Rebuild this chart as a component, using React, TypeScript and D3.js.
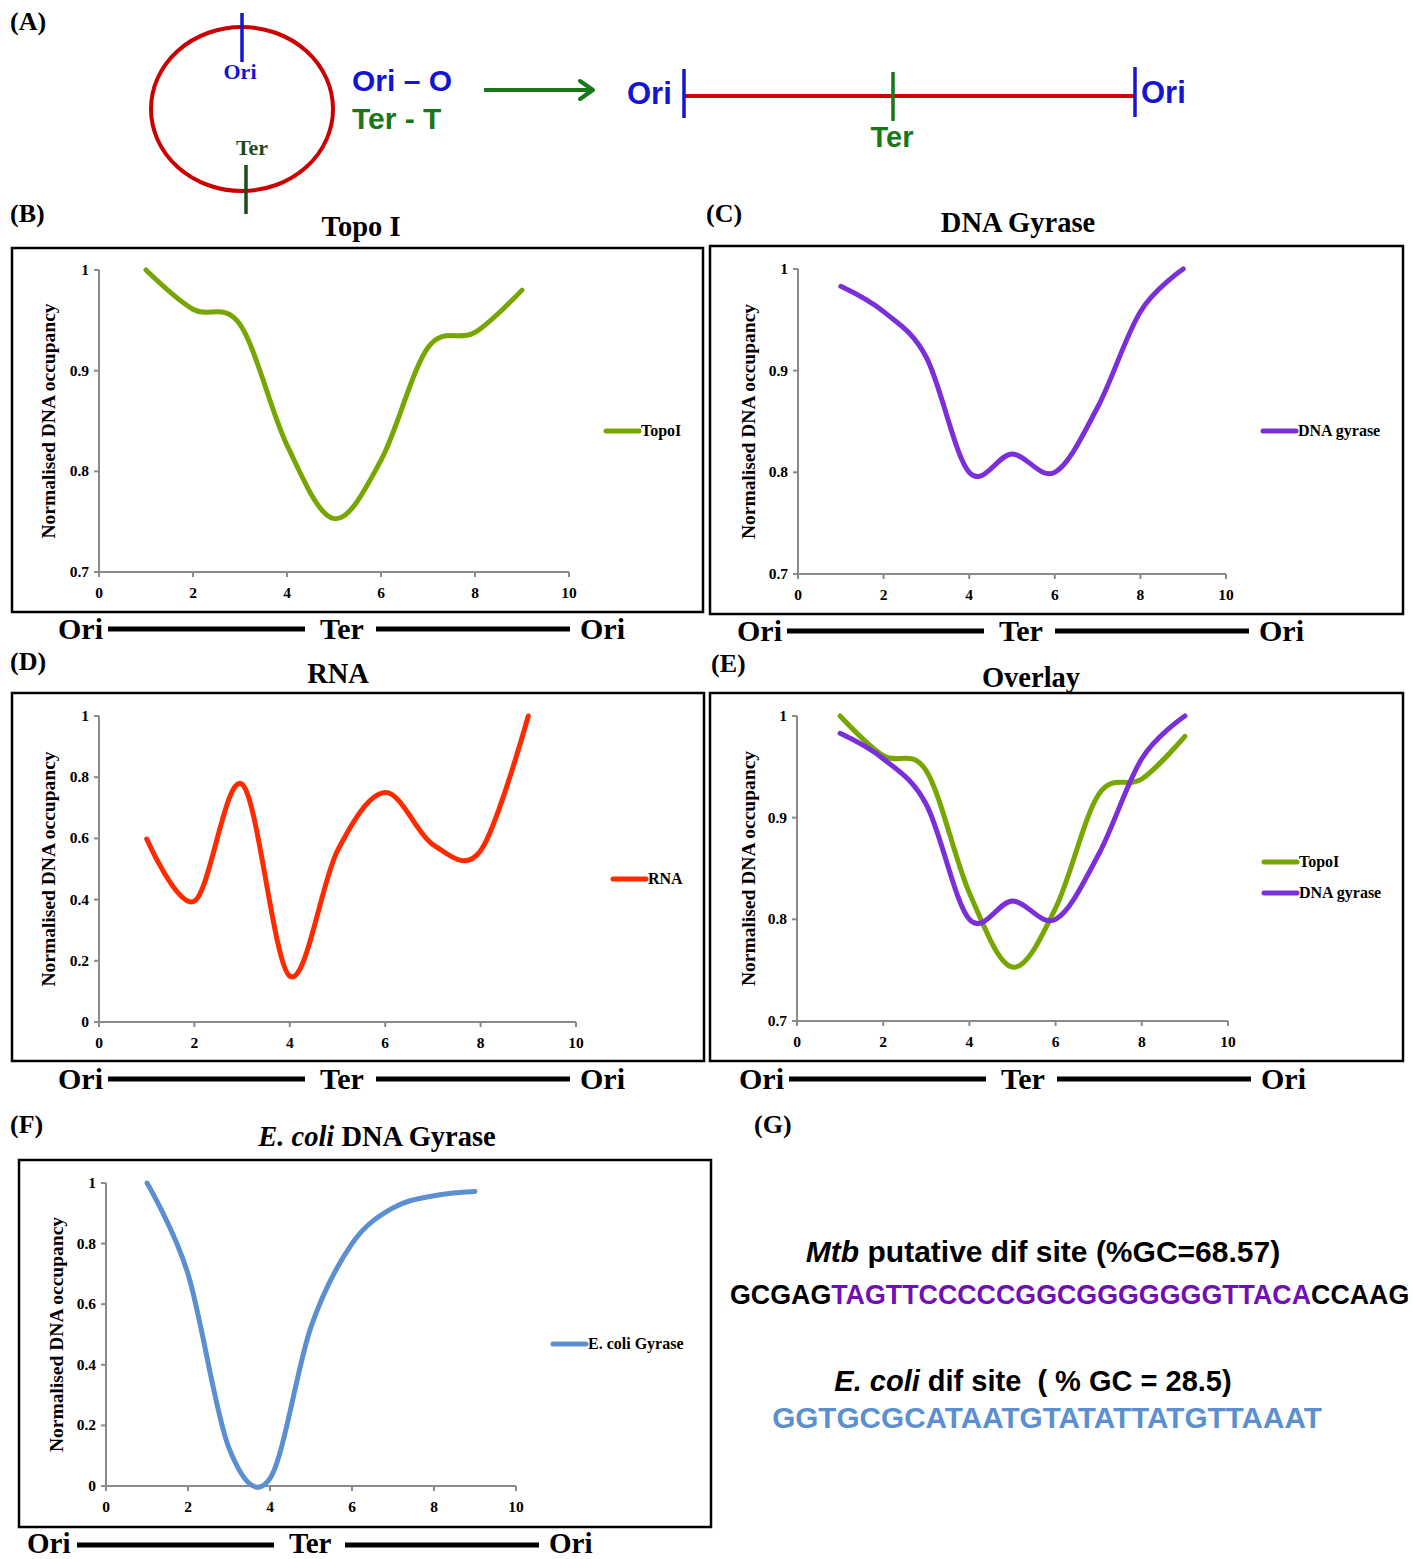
import React from 'react';
import * as d3 from 'd3';

// ---------- data ----------
const positions = [1, 2, 3, 4, 5, 6, 7, 8, 9];
const topoI = [1.0, 0.961, 0.946, 0.826, 0.753, 0.811, 0.923, 0.938, 0.98];
const dnaGyrase = [0.983, 0.958, 0.913, 0.8, 0.818, 0.8, 0.864, 0.958, 1.0];
const rna = [0.598, 0.395, 0.777, 0.15, 0.56, 0.75, 0.58, 0.56, 1.0];
const ecoliGyrase = [1.0, 0.7, 0.125, 0.025, 0.525, 0.8, 0.918, 0.958, 0.972];

const xTicks = [0, 2, 4, 6, 8, 10];
const yTicksNarrow = [0.7, 0.8, 0.9, 1];
const yTicksWide = [0, 0.2, 0.4, 0.6, 0.8, 1];

const mtbLeft = 'GCGAG';
const mtbCore = 'TAGTTCCCCCGGCGGGGGGGTTACA';
const mtbRight = 'CCAAG';
const ecoliSeq = 'GGTGCGCATAATGTATATTATGTTAAAT';

const C_TOPO = '#78a600';
const C_GYR = '#7b2fd9';
const C_RNA = '#ff2a00';
const C_ECOLI = '#5b8fcf';
const C_BLUE = '#1414d2';
const C_GREEN = '#187818';
const C_DKGREEN = '#1c4a1c';
const C_RED = '#cc0000';
const C_AXIS = '#8a8a8a';

const SERIF = "'Liberation Serif','Times New Roman',serif";
const SANS = "'Liberation Sans',Arial,sans-serif";

const fmt = (v: number) => (v === 0 ? '0' : v === 1 ? '1' : d3.format('.1f')(v));

type Series = { values: number[]; color: string; name: string };
type PanelCfg = {
  letter: string; letterX: number; letterY: number;
  title: React.ReactNode; titleX: number; titleY: number;
  box: [number, number, number, number];
  x0: number; x10: number; yTop: number; yBot: number;
  yDomain: [number, number]; yTicks: number[];
  ylabelX: number;
  series: Series[];
  legendX: number; legendY: number; legendDy: number;
  footerX: number; footerY: number; footerSize?: number; footerDy?: number;
};

function Footer({ ox, y, size = 30, dy = 10 }: { ox: number; y: number; size?: number; dy?: number }) {
  const ts = { fontFamily: SERIF, fontWeight: 700, fontSize: size } as const;
  return (
    <g>
      <text x={ox} y={y + dy} style={ts}>Ori</text>
      <line x1={ox + 50} x2={ox + 247} y1={y} y2={y} stroke="#000" strokeWidth={5} />
      <text x={ox + 262} y={y + dy} style={ts}>Ter</text>
      <line x1={ox + 318} x2={ox + 512} y1={y} y2={y} stroke="#000" strokeWidth={5} />
      <text x={ox + 522} y={y + dy} style={ts}>Ori</text>
    </g>
  );
}

function Panel({ c }: { c: PanelCfg }) {
  const x = d3.scaleLinear().domain([0, 10]).range([c.x0, c.x10]);
  const y = d3.scaleLinear().domain(c.yDomain).range([c.yBot, c.yTop]);
  const line = d3
    .line<number>()
    .x((_, i) => x(positions[i]))
    .y((v) => y(v))
    .curve(d3.curveCardinal.tension(0));
  const [bx, by, bw, bh] = c.box;
  const tickFont = { fontFamily: SERIF, fontWeight: 700, fontSize: 15.5 } as const;
  return (
    <g>
      <text x={c.letterX} y={c.letterY} style={{ fontFamily: SERIF, fontWeight: 700, fontSize: 26 }}>{c.letter}</text>
      <text x={c.titleX} y={c.titleY} textAnchor="middle" style={{ fontFamily: SERIF, fontWeight: 700, fontSize: 28.5 }}>{c.title}</text>
      <rect x={bx} y={by} width={bw} height={bh} fill="#fff" stroke="#000" strokeWidth={2.5} />
      {/* axes */}
      <line x1={c.x0} x2={c.x0} y1={y(c.yDomain[1])} y2={y(c.yDomain[0])} stroke={C_AXIS} strokeWidth={2} />
      <line x1={x(0)} x2={x(10)} y1={c.yBot} y2={c.yBot} stroke={C_AXIS} strokeWidth={2} />
      {c.yTicks.map((t) => (
        <g key={'y' + t}>
          <line x1={c.x0 - 5} x2={c.x0} y1={y(t)} y2={y(t)} stroke={C_AXIS} strokeWidth={2} />
          <text x={c.x0 - 10} y={y(t) + 5} textAnchor="end" style={tickFont}>{fmt(t)}</text>
        </g>
      ))}
      {xTicks.map((t) => (
        <g key={'x' + t}>
          <line x1={x(t)} x2={x(t)} y1={c.yBot} y2={c.yBot + 5} stroke={C_AXIS} strokeWidth={2} />
          <text x={x(t)} y={c.yBot + 26} textAnchor="middle" style={tickFont}>{t}</text>
        </g>
      ))}
      <text
        transform={`translate(${c.ylabelX},${(c.yTop + c.yBot) / 2}) rotate(-90)`}
        textAnchor="middle"
        style={{ fontFamily: SERIF, fontWeight: 700, fontSize: 19.5 }}
      >
        Normalised DNA occupancy
      </text>
      {c.series.map((s) => (
        <path key={s.name} d={line(s.values) || ''} fill="none" stroke={s.color} strokeWidth={5} strokeLinecap="round" strokeLinejoin="round" />
      ))}
      {c.series.map((s, i) => (
        <g key={'lg' + s.name}>
          <line x1={c.legendX} x2={c.legendX + 33} y1={c.legendY + i * c.legendDy} y2={c.legendY + i * c.legendDy} stroke={s.color} strokeWidth={5} strokeLinecap="round" />
          <text x={c.legendX + 35} y={c.legendY + i * c.legendDy + 5} style={{ fontFamily: SERIF, fontWeight: 700, fontSize: 16 }}>{s.name}</text>
        </g>
      ))}
      <Footer ox={c.footerX} y={c.footerY} size={c.footerSize} dy={c.footerDy} />
    </g>
  );
}

const panels: PanelCfg[] = [
  {
    letter: '(B)', letterX: 10, letterY: 222, title: 'Topo I', titleX: 361, titleY: 236,
    box: [12, 248, 691, 364], x0: 99, x10: 569, yTop: 270, yBot: 572,
    yDomain: [0.7, 1], yTicks: yTicksNarrow, ylabelX: 55,
    series: [{ values: topoI, color: C_TOPO, name: 'TopoI' }],
    legendX: 606, legendY: 431, legendDy: 31, footerX: 58, footerY: 629,
  },
  {
    letter: '(C)', letterX: 706, letterY: 222, title: 'DNA Gyrase', titleX: 1018, titleY: 232,
    box: [710, 246, 693, 368], x0: 798, x10: 1226, yTop: 269, yBot: 574,
    yDomain: [0.7, 1], yTicks: yTicksNarrow, ylabelX: 755,
    series: [{ values: dnaGyrase, color: C_GYR, name: 'DNA gyrase' }],
    legendX: 1263, legendY: 431, legendDy: 31, footerX: 737, footerY: 631,
  },
  {
    letter: '(D)', letterX: 10, letterY: 670, title: 'RNA', titleX: 338, titleY: 683,
    box: [12, 693, 692, 368], x0: 99, x10: 576, yTop: 716, yBot: 1022,
    yDomain: [0, 1], yTicks: yTicksWide, ylabelX: 55,
    series: [{ values: rna, color: C_RNA, name: 'RNA' }],
    legendX: 613, legendY: 879, legendDy: 31, footerX: 58, footerY: 1079,
  },
  {
    letter: '(E)', letterX: 711, letterY: 672, title: 'Overlay', titleX: 1031, titleY: 687,
    box: [710, 693, 693, 368], x0: 797, x10: 1228, yTop: 716, yBot: 1021,
    yDomain: [0.7, 1], yTicks: yTicksNarrow, ylabelX: 755,
    series: [
      { values: topoI, color: C_TOPO, name: 'TopoI' },
      { values: dnaGyrase, color: C_GYR, name: 'DNA gyrase' },
    ],
    legendX: 1264, legendY: 862, legendDy: 31, footerX: 739, footerY: 1079,
  },
  {
    letter: '(F)', letterX: 10, letterY: 1133,
    title: (<><tspan fontStyle="italic">E. coli</tspan> DNA Gyrase</>), titleX: 377, titleY: 1146,
    box: [19, 1160, 692, 367], x0: 106, x10: 516, yTop: 1183, yBot: 1486,
    yDomain: [0, 1], yTicks: yTicksWide, ylabelX: 63,
    series: [{ values: ecoliGyrase, color: C_ECOLI, name: 'E. coli Gyrase' }],
    legendX: 553, legendY: 1344, legendDy: 31, footerX: 27, footerY: 1545,
    footerSize: 29, footerDy: 8,
  },
];

function PanelA() {
  return (
    <g>
      <text x={10} y={30} style={{ fontFamily: SERIF, fontWeight: 700, fontSize: 26 }}>(A)</text>
      <ellipse cx={242} cy={109} rx={91} ry={82} fill="none" stroke={C_RED} strokeWidth={4} />
      <line x1={242} x2={242} y1={13} y2={62} stroke={C_BLUE} strokeWidth={3.5} />
      <text x={240} y={79} textAnchor="middle" fill={C_BLUE} style={{ fontFamily: SERIF, fontWeight: 700, fontSize: 22 }}>Ori</text>
      <text x={252} y={155} textAnchor="middle" fill={C_DKGREEN} style={{ fontFamily: SERIF, fontWeight: 700, fontSize: 22 }}>Ter</text>
      <line x1={246} x2={246} y1={165} y2={214} stroke={C_DKGREEN} strokeWidth={3.5} />
      <text x={352} y={91} fill={C_BLUE} style={{ fontFamily: SANS, fontWeight: 700, fontSize: 30 }}>Ori – O</text>
      <text x={352} y={129} fill={C_GREEN} style={{ fontFamily: SANS, fontWeight: 700, fontSize: 30 }}>Ter - T</text>
      <line x1={484} x2={592} y1={90} y2={90} stroke={C_GREEN} strokeWidth={4} />
      <path d="M580,81 L593,90 L580,99" fill="none" stroke={C_GREEN} strokeWidth={4} strokeLinecap="round" strokeLinejoin="round" />
      <text x={627} y={104} fill={C_BLUE} style={{ fontFamily: SANS, fontWeight: 700, fontSize: 31 }}>Ori</text>
      <line x1={684} x2={1135} y1={96} y2={96} stroke={C_RED} strokeWidth={4} />
      <line x1={684} x2={684} y1={69} y2={118} stroke={C_BLUE} strokeWidth={3.5} />
      <line x1={893} x2={893} y1={72} y2={121} stroke={C_GREEN} strokeWidth={3.5} />
      <text x={892} y={147} textAnchor="middle" fill={C_GREEN} style={{ fontFamily: SANS, fontWeight: 700, fontSize: 29 }}>Ter</text>
      <line x1={1135} x2={1135} y1={67} y2={117} stroke={C_BLUE} strokeWidth={3.5} />
      <text x={1141} y={103} fill={C_BLUE} style={{ fontFamily: SANS, fontWeight: 700, fontSize: 31 }}>Ori</text>
    </g>
  );
}

function PanelG() {
  const b = { fontFamily: SANS, fontWeight: 700 } as const;
  return (
    <g>
      <text x={754} y={1133} style={{ fontFamily: SERIF, fontWeight: 700, fontSize: 26 }}>(G)</text>
      <text x={1043} y={1262} textAnchor="middle" style={{ ...b, fontSize: 30 }}>
        <tspan fontStyle="italic">Mtb</tspan> putative dif site (%GC=68.57)
      </text>
      <text x={730} y={1304} style={{ ...b, fontSize: 26.8 }}>
        <tspan fill="#000">{mtbLeft}</tspan>
        <tspan fill="#7010b4">{mtbCore}</tspan>
        <tspan fill="#000">{mtbRight}</tspan>
      </text>
      <text x={1033} y={1391} textAnchor="middle" style={{ ...b, fontSize: 29, whiteSpace: 'pre' }}>
        <tspan fontStyle="italic">E. coli</tspan>{' dif site  ( % GC = 28.5)'}
      </text>
      <text x={1047} y={1428} textAnchor="middle" fill={C_ECOLI} style={{ ...b, fontSize: 29.7 }}>{ecoliSeq}</text>
    </g>
  );
}

export default function App() {
  return (
    <svg width={1413} height={1559} viewBox="0 0 1413 1559" style={{ position: 'absolute', left: 0, top: 0, display: 'block', background: '#fff' }}>
      <rect x={0} y={0} width={1413} height={1559} fill="#fff" />
      <PanelA />
      {panels.map((p) => (
        <Panel key={p.letter} c={p} />
      ))}
      <PanelG />
    </svg>
  );
}
